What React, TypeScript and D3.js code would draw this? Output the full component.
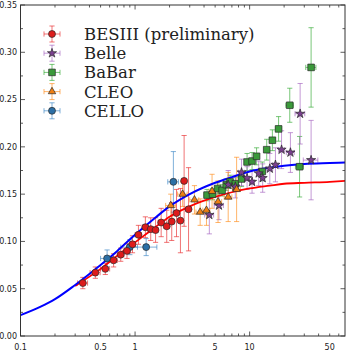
import * as d3 from "d3";

const W = 349;
const H = 353;

// BESIII (preliminary)
const besQ2 = [0.35, 0.45, 0.55, 0.65, 0.75, 0.85, 0.95, 1.07, 1.23, 1.37, 1.51, 1.69, 1.89, 2.09, 2.3, 2.49, 2.68, 2.93];
const besVal = [0.056, 0.067, 0.071, 0.080, 0.086, 0.090, 0.097, 0.107, 0.115, 0.113, 0.112, 0.120, 0.116, 0.121, 0.130, 0.122, 0.164, 0.134];
const besErr = [0.006, 0.006, 0.006, 0.007, 0.007, 0.008, 0.009, 0.010, 0.011, 0.012, 0.013, 0.015, 0.017, 0.020, 0.025, 0.034, 0.048, 0.044];
const besQ2Err = [0.035, 0.045, 0.05, 0.05, 0.05, 0.05, 0.05, 0.07, 0.08, 0.07, 0.07, 0.1, 0.1, 0.1, 0.1, 0.1, 0.1, 0.15];

// Belle
const belleQ2 = [4.45, 5.4, 6.5, 7.5, 8.5, 9.5, 10.5, 12.0, 13.0, 15.0, 16.8, 19.0, 22.7, 27.6, 34.4];
const belleVal = [0.128, 0.138, 0.160, 0.158, 0.173, 0.167, 0.163, 0.172, 0.167, 0.177, 0.181, 0.197, 0.194, 0.235, 0.186];
const belleErr = [0.020, 0.015, 0.015, 0.012, 0.014, 0.012, 0.012, 0.013, 0.015, 0.016, 0.018, 0.020, 0.021, 0.032, 0.042];
const belleQ2Err = [0.4, 0.5, 0.5, 0.5, 0.5, 0.5, 0.5, 0.5, 0.5, 0.9, 0.9, 1.1, 1.8, 2.7, 5];

// BaBar
const babarQ2 = [4.25, 4.75, 5.25, 5.75, 6.25, 6.75, 7.5, 8.5, 9.5, 10.5, 11.5, 12.9, 14.1, 15.8, 17.9, 22.4, 27.3, 34.4];
const babarVal = [0.149, 0.150, 0.156, 0.154, 0.160, 0.163, 0.161, 0.166, 0.184, 0.185, 0.190, 0.174, 0.197, 0.207, 0.219, 0.244, 0.179, 0.284];
const babarErr = [0.006, 0.006, 0.006, 0.006, 0.006, 0.007, 0.007, 0.008, 0.009, 0.009, 0.009, 0.010, 0.011, 0.011, 0.013, 0.018, 0.032, 0.042];
const babarQ2Err = [0.25, 0.25, 0.25, 0.25, 0.25, 0.25, 0.5, 0.5, 0.5, 0.5, 0.5, 0.7, 0.7, 0.9, 1.1, 1.7, 2.2, 3.5];

// CLEO
const cleoQ2 = [2.05, 2.6, 3.3, 3.7, 4.2, 4.7, 5.3, 6.5, 7.7];
const cleoVal = [0.138, 0.150, 0.144, 0.131, 0.133, 0.153, 0.142, 0.147, 0.155];
const cleoErr = [0.012, 0.013, 0.015, 0.014, 0.016, 0.018, 0.022, 0.026, 0.034];
const cleoQ2Err = [0.2, 0.25, 0.3, 0.3, 0.3, 0.3, 0.4, 0.5, 0.6];

// CELLO
const celloQ2 = [0.57, 0.9, 1.25, 2.16];
const celloVal = [0.082, 0.094, 0.094, 0.163];
const celloErr = [0.009, 0.008, 0.009, 0.032];
const celloQ2Err = [0.07, 0.15, 0.3, 0.23];

// model curves
const blueQ2 = [0.1, 0.15, 0.2, 0.3, 0.5, 0.7, 1, 1.5, 2, 3, 5, 7, 10, 15, 20, 30, 50, 68];
const blueVal = [0.022, 0.031, 0.039, 0.054, 0.075, 0.090, 0.107, 0.125, 0.137, 0.150, 0.162, 0.168, 0.174, 0.178, 0.180, 0.182, 0.183, 0.1835];
const redQ2 = [0.3, 0.5, 0.7, 1, 1.5, 2, 3, 5, 7, 10, 15, 20, 30, 50, 68];
const redVal = [0.053, 0.071, 0.085, 0.099, 0.115, 0.126, 0.137, 0.147, 0.152, 0.156, 0.159, 0.161, 0.162, 0.163, 0.164];

const xTickLabels = [0.1, 0.5, 1, 5, 10, 50];
const yTickLabels = [0, 0.05, 0.1, 0.15, 0.2, 0.25, 0.3, 0.35];

const series = [
  { name: "BESIII (preliminary)", q2: besQ2, val: besVal, err: besErr, q2err: besQ2Err, color: "#e8292b", fill: "#dd1c1c", sym: d3.symbolCircle, size: 38 },
  { name: "Belle", q2: belleQ2, val: belleVal, err: belleErr, q2err: belleQ2Err, color: "#a463c0", fill: "#7b3f90", sym: d3.symbolStar, size: 26 },
  { name: "BaBar", q2: babarQ2, val: babarVal, err: babarErr, q2err: babarQ2Err, color: "#33a933", fill: "#3a9a3a", sym: d3.symbolSquare, size: 44 },
  { name: "CLEO", q2: cleoQ2, val: cleoVal, err: cleoErr, q2err: cleoQ2Err, color: "#ff8c1a", fill: "#ef7f12", sym: d3.symbolTriangle, size: 24 },
  { name: "CELLO", q2: celloQ2, val: celloVal, err: celloErr, q2err: celloQ2Err, color: "#3a86c4", fill: "#2b6fa6", sym: d3.symbolCircle, size: 38 },
];

const drawOrder = [2, 1, 3, 4, 0];

export default function App() {
  const left = 20.5, right = 345, top = 5, bottom = 336;
  const x = d3.scaleLog().domain([0.1, 68]).range([left, right]);
  const y = d3.scaleLinear().domain([0, 0.35]).range([bottom, top]);

  const line = d3
    .line<[number, number]>()
    .x((d) => x(d[0]))
    .y((d) => y(d[1]))
    .curve(d3.curveMonotoneX);

  const minorX: number[] = [];
  [0.1, 1, 10].forEach((dec) => {
    for (let k = 1; k <= 9; k++) if (dec * k <= 68) minorX.push(dec * k);
  });
  const yMinor = d3.range(0, 0.3501, 0.025);
  const tickFont = { fontFamily: "DejaVu Sans", fontSize: 8, fill: "#222" };

  const errBars = (s, cx, cy, i, key, dxPx?, dyPx?) => {
    const x0 = dxPx !== undefined ? cx - dxPx : x(s.q2[i] - s.q2err[i]);
    const x1 = dxPx !== undefined ? cx + dxPx : x(s.q2[i] + s.q2err[i]);
    const y0 = dyPx !== undefined ? cy + dyPx : y(s.val[i] - s.err[i]);
    const y1 = dyPx !== undefined ? cy - dyPx : y(s.val[i] + s.err[i]);
    const c = 2.6;
    return (
      <g key={key} stroke={s.color} strokeOpacity={0.65} strokeWidth={1} fill="none">
        <line x1={x0} x2={x1} y1={cy} y2={cy} />
        <line x1={x0} x2={x0} y1={cy - c} y2={cy + c} />
        <line x1={x1} x2={x1} y1={cy - c} y2={cy + c} />
        <line x1={cx} x2={cx} y1={y0} y2={y1} />
        <line x1={cx - c} x2={cx + c} y1={y0} y2={y0} />
        <line x1={cx - c} x2={cx + c} y1={y1} y2={y1} />
      </g>
    );
  };

  const marker = (s, cx, cy, key) => (
    <path
      key={key}
      d={d3.symbol().type(s.sym).size(s.size)() as string}
      transform={`translate(${cx},${cy})`}
      fill={s.fill}
      stroke="#2a2a2a"
      strokeWidth={0.7}
    />
  );

  return (
    <svg width={W} height={H} style={{ position: "absolute", left: 0, top: 0, background: "#fff" }}>
      <rect x={0} y={0} width={W} height={H} fill="#fff" />
      <defs>
        <clipPath id="plot">
          <rect x={left} y={top} width={right - left} height={bottom - top} />
        </clipPath>
      </defs>

      <g clipPath="url(#plot)">
        {drawOrder.map((si) => {
          const s = series[si];
          return s.q2.map((q, i) => errBars(s, x(q), y(s.val[i]), i, `e${si}-${i}`));
        })}
        <path d={line(redQ2.map((q, i) => [q, redVal[i]])) as string} fill="none" stroke="#ff0000" strokeWidth={1.8} />
        <path d={line(blueQ2.map((q, i) => [q, blueVal[i]])) as string} fill="none" stroke="#0000ff" strokeWidth={2} />
        {drawOrder.map((si) => {
          const s = series[si];
          return s.q2.map((q, i) => marker(s, x(q), y(s.val[i]), `m${si}-${i}`));
        })}
      </g>

      {/* frame and ticks */}
      <g stroke="#333" strokeWidth={0.8}>
        {minorX.map((v) => {
          const major = [0.1, 1, 10].includes(v);
          const len = major ? 4.5 : 2.5;
          return (
            <g key={`xt${v}`}>
              <line x1={x(v)} x2={x(v)} y1={bottom} y2={bottom - len} />
              <line x1={x(v)} x2={x(v)} y1={top} y2={top + len} />
            </g>
          );
        })}
        {yMinor.map((v, i) => {
          const len = i % 2 === 0 ? 4.5 : 2.5;
          return (
            <g key={`yt${i}`}>
              <line x1={left} x2={left + len} y1={y(v)} y2={y(v)} />
              <line x1={right} x2={right - len} y1={y(v)} y2={y(v)} />
            </g>
          );
        })}
      </g>
      <rect x={left} y={top} width={right - left} height={bottom - top} fill="none" stroke="#333" strokeWidth={1} />

      {yTickLabels.map((v) => (
        <text key={`yl${v}`} x={17} y={y(v)} dy="0.35em" textAnchor="end" {...tickFont}>
          {v.toFixed(2)}
        </text>
      ))}
      {xTickLabels.map((v) => (
        <text key={`xl${v}`} x={x(v)} y={350} textAnchor="middle" {...tickFont}>
          {String(v)}
        </text>
      ))}

      {/* legend */}
      {series.map((s, i) => {
        const cx = 52;
        const cy = 34 + i * 19.2;
        return (
          <g key={`lg${i}`}>
            {errBars(s, cx, cy, 0, `le${i}`, 8, 8)}
            {marker(s, cx, cy, `lm${i}`)}
            <text x={84} y={cy} dy="0.36em" fontFamily="DejaVu Serif" fontSize={16.5} fill="#222">
              {s.name}
            </text>
          </g>
        );
      })}
    </svg>
  );
}
